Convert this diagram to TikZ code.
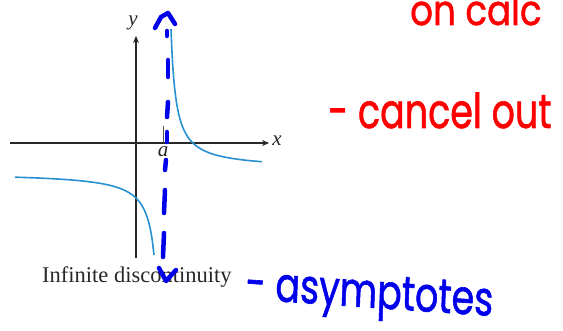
\documentclass[tikz,border=0pt]{standalone}
\usepackage{fontspec}
\setmainfont{Liberation Serif}
\newfontfamily\handfont{Poppins}[FakeBold=1.3]
\usetikzlibrary{arrows.meta}
\definecolor{curveblue}{RGB}{40,145,210}
\definecolor{inkblue}{RGB}{0,0,235}
\definecolor{inkred}{RGB}{255,0,0}
\definecolor{axisgray}{RGB}{40,40,40}
\tikzset{
  axis/.style={draw=axisgray, line width=1.1pt, -{Stealth[length=7pt,width=6pt]}},
  curve/.style={draw=curveblue, line width=1.6pt},
  ink/.style={draw=inkblue, line width=4.5pt, line cap=round, line join=round},
  lbl/.style={font=\fontsize{21}{21}\selectfont\itshape, text=axisgray, inner sep=0pt},
  redhand/.style={font=\handfont\fontsize{48}{48}\selectfont, text=inkred, inner sep=0pt},
  bluehand/.style={font=\handfont\fontsize{48}{48}\selectfont, text=inkblue, inner sep=0pt}
}
\begin{document}
\begin{tikzpicture}[x=1pt,y=-1pt]
\useasboundingbox (0,0) rectangle (563,331);
% axes
\coordinate (xs) at (10,143);
\coordinate (xe) at (269,143);
\coordinate (ys) at (136,258);
\coordinate (ye) at (136,36);
\draw[axis] (xs) -- (xe);
\draw[axis] (ys) -- (ye);
\coordinate (t1) at (163,126);
\coordinate (t2) at (163,143);
\draw[draw=axisgray!80, line width=1pt] (t1) -- (t2);
\node[lbl] (ylab) at (133,23) {y};
\node[lbl] (xlab) at (277,141) {x};
\node[lbl] (alab) at (163,152) {a};
% curves
\draw[curve] plot[domain=171:262, samples=80, smooth] (\x, {169-699/(\x-166)});
\draw[curve] plot[domain=15:154, samples=80, smooth] (\x, {172.7+659/(162-\x)});
% caption
\node[font=\fontsize{22.5}{22.5}\selectfont, text=axisgray, anchor=base west, inner sep=0pt] (cap) at (42,283) {Infinite discontinuity};
% blue dashed asymptote
\draw[ink] (155,28) -- (161,17) -- (168,13) -- (175,24);
\draw[ink] (167,31) -- (167,36);
\draw[ink] (168,60) -- (168,77);
\draw[ink] (168,102) -- (167,117);
\draw[ink] (167,132) -- (167,142);
\draw[ink] (166,160) -- (165,170);
\draw[ink] (165,190) -- (164,213);
\draw[ink] (164,233) -- (163,257);
\draw[ink] (159,268) -- (166,281) -- (176,270);
% handwriting
\node[redhand, anchor=base west, xscale=0.85, font=\handfont\fontsize{42}{42}\selectfont] (oncalc) at (410,25) {on calc};
\node[redhand, anchor=base west, xscale=0.76] (cancel) at (328,128) {- cancel out};
\node[bluehand, anchor=base west, xscale=0.76, rotate=-3] (asym) at (245,299) {- asymptotes};
\end{tikzpicture}
\end{document}
